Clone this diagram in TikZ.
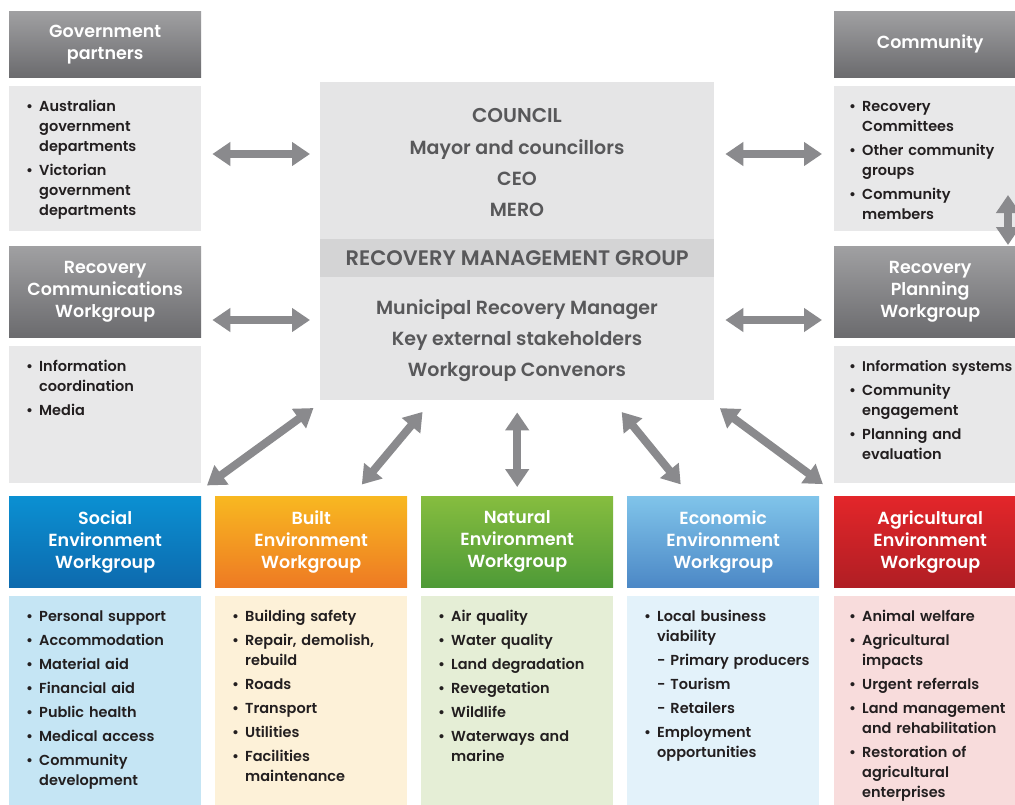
\documentclass[tikz,border=0pt]{standalone}
\usepackage{fontspec}
\setmainfont{Poppins}
\newfontfamily\medfont{Poppins Medium}
\newfontfamily\semifont{Poppins SemiBold}
\usetikzlibrary{arrows.meta,calc}

% palette
\definecolor{hdrtop}{HTML}{A0A0A2}
\definecolor{hdrbot}{HTML}{6B6B6E}
\definecolor{graybody}{HTML}{E8E8E9}
\definecolor{ctrfill}{HTML}{E5E5E6}
\definecolor{bandfill}{HTML}{D4D4D5}
\definecolor{ctrtext}{HTML}{58585A}
\definecolor{listtext}{HTML}{231F20}
\definecolor{arrowgray}{HTML}{8A8A8D}
\definecolor{soctop}{HTML}{0B90D2}
\definecolor{socbot}{HTML}{0D6AAE}
\definecolor{socbody}{HTML}{C5E5F4}
\definecolor{blttop}{HTML}{F8B821}
\definecolor{bltbot}{HTML}{EE7A23}
\definecolor{bltbody}{HTML}{FDF1D8}
\definecolor{nattop}{HTML}{86BD3F}
\definecolor{natbot}{HTML}{4E9A37}
\definecolor{natbody}{HTML}{E5EED6}
\definecolor{ecotop}{HTML}{80C4EA}
\definecolor{ecobot}{HTML}{4C88C6}
\definecolor{ecobody}{HTML}{E3F2FA}
\definecolor{agrtop}{HTML}{E3262A}
\definecolor{agrbot}{HTML}{B01E24}
\definecolor{agrbody}{HTML}{F8DCDC}

% list entries with hanging indent; \nl breaks a line inside an entry,
% \lastpar closes the last entry while its indent is still in force
\newcommand{\nl}{\unskip\hfil\break}
\newcommand{\itm}[1]{\par\hangindent=13pt\hangafter=1\noindent\makebox[13pt][l]{\textbullet}#1}
\newcommand{\subitm}[1]{\par\hangindent=13pt\hangafter=1\noindent\hspace*{13pt}-\space#1}
\newcommand{\lastpar}{\par}

\tikzset{
  hdr/.style={anchor=north west, minimum width=192pt, minimum height=#1, inner sep=0pt,
    text=white, align=center, font=\semifont\fontsize{17.5}{22}\selectfont},
  graywg/.style={hdr=#1, top color=hdrtop, bottom color=hdrbot},
  bodybox/.style={anchor=north west, minimum width=192pt, minimum height=#1, inner sep=0pt},
  listbox/.style={anchor=north west, inner sep=0pt, text width=185pt, align=left,
    text=listtext, font=\semifont\fontsize{14.5}{20}\selectfont\setlength{\parskip}{4pt}},
  ctrline/.style={text=ctrtext, align=center, inner sep=0pt},
  dbl/.style={draw=arrowgray, line width=8pt,
    arrows={Triangle[length=18pt,width=23pt]-Triangle[length=18pt,width=23pt]}},
}

\begin{document}
\begin{tikzpicture}[x=1pt,y=-1pt]
\useasboundingbox (0,0) rectangle (1015,804);
\clip (0,0) rectangle (1015,804);
\fill[white] (0,0) rectangle (1015,804);

% ---------- left column ----------
\node[graywg=66pt] (govh) at (9,11) {Government\\partners};
\node[bodybox=145pt, fill=graybody] (govb) at (9,86) {};
\node[listbox] (govt) at ([xshift=17pt,yshift=-1pt]govb.north west)
  {\itm{Australian\nl government\nl departments}\itm{Victorian\nl government\nl departments}\lastpar};

\node[graywg=91pt] (rcwh) at (9,246) {Recovery\\Communications\\Workgroup};
\node[bodybox=137pt, fill=graybody] (rcwb) at (9,346) {};
\node[listbox] (rcwt) at ([xshift=17pt,yshift=-1pt]rcwb.north west)
  {\itm{Information\nl coordination}\itm{Media}\lastpar};

% ---------- right column ----------
\node[graywg=66pt] (comh) at (834,11) {Community};
\node[bodybox=145pt, fill=graybody] (comb) at (834,86) {};
\node[listbox] (comt) at ([xshift=15pt,yshift=-1pt]comb.north west)
  {\itm{Recovery\nl Committees}\itm{Other community\nl groups}\itm{Community\nl members}\lastpar};

\node[graywg=91pt] (rpwh) at (834,246) {Recovery\\Planning\\Workgroup};
\node[bodybox=137pt, fill=graybody] (rpwb) at (834,346) {};
\node[listbox] (rpwt) at ([xshift=15pt,yshift=-1pt]rpwb.north west)
  {\itm{{\fontsize{14.1}{20}\selectfont Information systems}}\itm{Community\nl engagement}\itm{Planning and\nl evaluation}\lastpar};

% ---------- council / recovery management group ----------
\node[anchor=north west, minimum width=394pt, minimum height=318pt, inner sep=0pt, fill=ctrfill] (ctr) at (320,82) {};
\node[anchor=north west, minimum width=394pt, minimum height=38pt, inner sep=0pt, fill=bandfill,
  text=ctrtext, font=\semifont\fontsize{21}{24}\selectfont] (rmg) at (320,239) {RECOVERY MANAGEMENT GROUP};
\node[ctrline, font=\semifont\fontsize{20}{31}\selectfont] (council) at (517,115) {COUNCIL};
\node[ctrline, anchor=north, font=\semifont\fontsize{19}{31}\selectfont] (officers) at (517,139)
  {Mayor and councillors\\CEO\\MERO};
\node[ctrline, font=\semifont\fontsize{19}{31}\selectfont] (members) at (517,341)
  {Municipal Recovery Manager\\Key external stakeholders\\Workgroup Convenors};

% ---------- environment workgroups ----------
\node[hdr=91pt, top color=soctop, bottom color=socbot] (soch) at (9,496) {Social\\Environment\\Workgroup};
\node[bodybox=215pt, fill=socbody] (socb) at (9,596) {};
\node[listbox] (soct) at ([xshift=17pt,yshift=-1pt]socb.north west)
  {\itm{Personal support}\itm{Accommodation}\itm{Material aid}\itm{Financial aid}\itm{Public health}\itm{Medical access}\itm{Community\nl development}\lastpar};

\node[hdr=91pt, top color=blttop, bottom color=bltbot] (blth) at (215,496) {Built\\Environment\\Workgroup};
\node[bodybox=215pt, fill=bltbody] (bltb) at (215,596) {};
\node[listbox] (bltt) at ([xshift=17pt,yshift=-1pt]bltb.north west)
  {\itm{Building safety}\itm{Repair, demolish,\nl rebuild}\itm{Roads}\itm{Transport}\itm{Utilities}\itm{Facilities\nl maintenance}\lastpar};

\node[hdr=91pt, top color=nattop, bottom color=natbot] (nath) at (421,496) {Natural\\Environment\\Workgroup};
\node[bodybox=215pt, fill=natbody] (natb) at (421,596) {};
\node[listbox] (natt) at ([xshift=17pt,yshift=-1pt]natb.north west)
  {\itm{Air quality}\itm{Water quality}\itm{Land degradation}\itm{Revegetation}\itm{Wildlife}\itm{Waterways and\nl marine}\lastpar};

\node[hdr=91pt, top color=ecotop, bottom color=ecobot] (ecoh) at (627,496) {Economic\\Environment\\Workgroup};
\node[bodybox=215pt, fill=ecobody] (ecob) at (627,596) {};
\node[listbox] (ecot) at ([xshift=17pt,yshift=-1pt]ecob.north west)
  {\itm{Local business\nl viability}\subitm{Primary producers}\subitm{Tourism}\subitm{Retailers}\itm{Employment\nl opportunities}\lastpar};

\node[hdr=91pt, top color=agrtop, bottom color=agrbot] (agrh) at (834,496) {Agricultural\\Environment\\Workgroup};
\node[bodybox=215pt, fill=agrbody] (agrb) at (834,596) {};
\node[listbox] (agrt) at ([xshift=15pt,yshift=-1pt]agrb.north west)
  {\itm{Animal welfare}\itm{Agricultural\nl impacts}\itm{Urgent referrals}\itm{Land management\nl and rehabilitation}\itm{Restoration of\nl agricultural\nl enterprises}\lastpar};

% ---------- two-way links ----------
\coordinate (cmlink) at (1008,195);
\draw[dbl, shorten <=11pt, shorten >=10pt] (govb.east |- 0,154) -- (ctr.west |- 0,154);
\draw[dbl, shorten <=11pt, shorten >=10pt] (rcwh.east |- 0,320) -- (ctr.west |- 0,320);
\draw[dbl, shorten <=11pt, shorten >=12pt] (ctr.east |- 0,154) -- (comb.west |- 0,154);
\draw[dbl, shorten <=11pt, shorten >=12pt] (ctr.east |- 0,320) -- (rpwh.west |- 0,320);
\draw[dbl, shorten >=1pt] (cmlink) -- (rpwh.north -| cmlink);

\draw[dbl, shorten <=13pt, shorten >=18pt] ([xshift=4pt]ctr.south west) -- ([xshift=-9pt]soch.north east);
\draw[dbl, shorten <=15pt, shorten >=15pt] ([xshift=-85pt]ctr.south) -- ([xshift=41pt]blth.north);
\draw[dbl, shorten <=12pt, shorten >=9pt] (ctr.south) -- (nath.north);
\draw[dbl, shorten <=15pt, shorten >=15pt] ([xshift=95pt]ctr.south) -- ([xshift=-33pt]ecoh.north);
\draw[dbl, shorten <=13pt, shorten >=20pt] ([xshift=-5pt]ctr.south east) -- ([xshift=5pt]agrh.north west);
\end{tikzpicture}
\end{document}
